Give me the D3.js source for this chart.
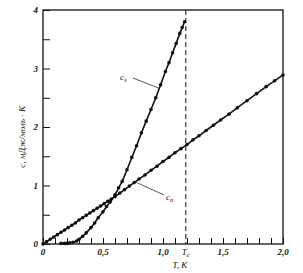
<!DOCTYPE html>
<html>
<head>
<meta charset="utf-8">
<script src="https://cdn.jsdelivr.net/npm/d3@7"></script>
<style>
  body { margin: 0; background: #fff; }
  text { font-family: "Liberation Serif", serif; font-style: italic; fill: #111; }
</style>
</head>
<body>
<div id="chart"></div>
<script>
// heat capacity of a superconductor: normal (c_n) and superconducting (c_s) state

const cnT = [0, 0.03, 0.06, 0.09, 0.12, 0.15, 0.18, 0.21, 0.24, 0.27, 0.30, 0.33, 0.36, 0.39, 0.42, 0.45, 0.48, 0.51, 0.54, 0.57, 0.60,
             0.64, 0.68, 0.72, 0.76, 0.80, 0.85, 0.90, 0.95, 1.00, 1.05, 1.10, 1.15, 1.20, 1.25, 1.30, 1.36, 1.42, 1.48, 1.55,
             1.62, 1.70, 1.78, 1.86, 1.93, 2.00];
const cnC = [0, 0.04, 0.08, 0.12, 0.16, 0.20, 0.24, 0.28, 0.32, 0.36, 0.41, 0.45, 0.49, 0.53, 0.57, 0.61, 0.65, 0.69, 0.73, 0.77, 0.81,
             0.87, 0.93, 0.99, 1.05, 1.11, 1.18, 1.26, 1.33, 1.41, 1.48, 1.56, 1.63, 1.70, 1.78, 1.85, 1.94, 2.03, 2.12, 2.22,
             2.33, 2.45, 2.57, 2.69, 2.79, 2.89];

const csT = [0.15, 0.18, 0.20, 0.22, 0.25, 0.28, 0.30, 0.33, 0.36, 0.40, 0.43, 0.46, 0.50, 0.53, 0.56, 0.60, 0.63, 0.66,
             0.70, 0.74, 0.78, 0.82, 0.86, 0.90, 0.94, 0.98, 1.02, 1.05, 1.08, 1.11, 1.14, 1.16, 1.18];
const csC = [0.01, 0.01, 0.01, 0.02, 0.03, 0.05, 0.08, 0.13, 0.19, 0.28, 0.36, 0.45, 0.55, 0.64, 0.72, 0.84, 0.96, 1.07,
             1.27, 1.48, 1.68, 1.90, 2.10, 2.30, 2.50, 2.72, 2.95, 3.10, 3.27, 3.43, 3.60, 3.70, 3.80];

const Tc = 1.19;
const xTickLabels = [{ v: 0, t: "0" }, { v: 0.5, t: "0,5" }, { v: 1.0, t: "1,0" }, { v: 1.5, t: "1,5" }, { v: 2.0, t: "2,0" }];
const yTickLabels = ["0", "1", "2", "3", "4"];

const width = 303, height = 273;
const margin = { top: 10, right: 20, bottom: 29, left: 43 };

const svg = d3.select("#chart").append("svg")
    .attr("width", width)
    .attr("height", height);

const x = d3.scaleLinear().domain([0, 2]).range([margin.left, width - margin.right]);
const y = d3.scaleLinear().domain([0, 4]).range([height - margin.bottom, margin.top]);

// frame
svg.append("rect")
    .attr("x", x(0)).attr("y", y(4))
    .attr("width", x(2) - x(0)).attr("height", y(0) - y(4))
    .attr("fill", "none").attr("stroke", "#111").attr("stroke-width", 1.3);

// inward ticks, bottom every 0.1
const xAxis = d3.axisTop(x).tickValues(d3.range(0, 21).map(i => i / 10))
    .tickSize(6).tickFormat("");
svg.append("g").attr("transform", `translate(0,${y(0)})`).call(xAxis)
    .call(g => g.select(".domain").remove())
    .call(g => g.selectAll("line").attr("stroke", "#111"));

const yAxis = d3.axisRight(y).tickValues(d3.range(0, 9).map(i => i / 2))
    .tickSize(7).tickFormat("");
svg.append("g").attr("transform", `translate(${x(0)},0)`).call(yAxis)
    .call(g => g.select(".domain").remove())
    .call(g => g.selectAll("line").attr("stroke", "#111"));

// tick labels
svg.selectAll(".xl").data(xTickLabels).enter().append("text")
    .attr("x", d => x(d.v)).attr("y", y(0) + 11)
    .attr("text-anchor", "middle").attr("font-size", 9).attr("font-weight", "bold")
    .text(d => d.t);

svg.selectAll(".yl").data(yTickLabels).enter().append("text")
    .attr("x", x(0) - 5).attr("y", (d, i) => y(i) + 3)
    .attr("text-anchor", "end").attr("font-size", 9).attr("font-weight", "bold")
    .text(d => d);

const tcLab = svg.append("text")
    .attr("x", x(Tc)).attr("y", y(0) + 11)
    .attr("text-anchor", "middle").attr("font-size", 9);
tcLab.append("tspan").text("T");
tcLab.append("tspan").attr("font-size", 7).attr("dy", 2).text("c");

svg.append("text")
    .attr("x", x(1.14)).attr("y", height - 5)
    .attr("text-anchor", "middle").attr("font-size", 9)
    .text("T, K");

svg.append("text")
    .attr("transform", `translate(25,${y(1.83)}) rotate(-90)`)
    .attr("text-anchor", "middle").attr("font-size", 9)
    .text("c, мДж/моль · К");

// Tc dashed line
svg.append("line")
    .attr("x1", x(Tc)).attr("x2", x(Tc))
    .attr("y1", y(4)).attr("y2", y(0))
    .attr("stroke", "#111").attr("stroke-width", 1)
    .attr("stroke-dasharray", "5,3");

const line = d3.line().x(d => x(d[0])).y(d => y(d[1]));

function drawSeries(T, C) {
    const pts = T.map((t, i) => [t, C[i]]);
    svg.append("path").datum(pts)
        .attr("d", line)
        .attr("fill", "none").attr("stroke", "#111").attr("stroke-width", 1.6);
    svg.append("g").selectAll("circle").data(pts).enter().append("circle")
        .attr("cx", d => x(d[0])).attr("cy", d => y(d[1]))
        .attr("r", 1.8).attr("fill", "#111");
}

drawSeries(cnT, cnC);
drawSeries(csT, csC);

// curve labels with leaders
svg.append("line")
    .attr("x1", 133).attr("y1", 78).attr("x2", x(0.97)).attr("y2", y(2.66))
    .attr("stroke", "#111").attr("stroke-width", 0.7);
const csLab = svg.append("text").attr("x", 120).attr("y", 80).attr("font-size", 9);
csLab.append("tspan").text("c");
csLab.append("tspan").attr("font-size", 7).attr("dy", 2).text("s");

svg.append("line")
    .attr("x1", 164).attr("y1", 195).attr("x2", x(0.77)).attr("y2", y(1.06))
    .attr("stroke", "#111").attr("stroke-width", 0.7);
const cnLab = svg.append("text").attr("x", 166).attr("y", 200).attr("font-size", 9);
cnLab.append("tspan").text("c");
cnLab.append("tspan").attr("font-size", 7).attr("dy", 2).text("n");
</script>
</body>
</html>
